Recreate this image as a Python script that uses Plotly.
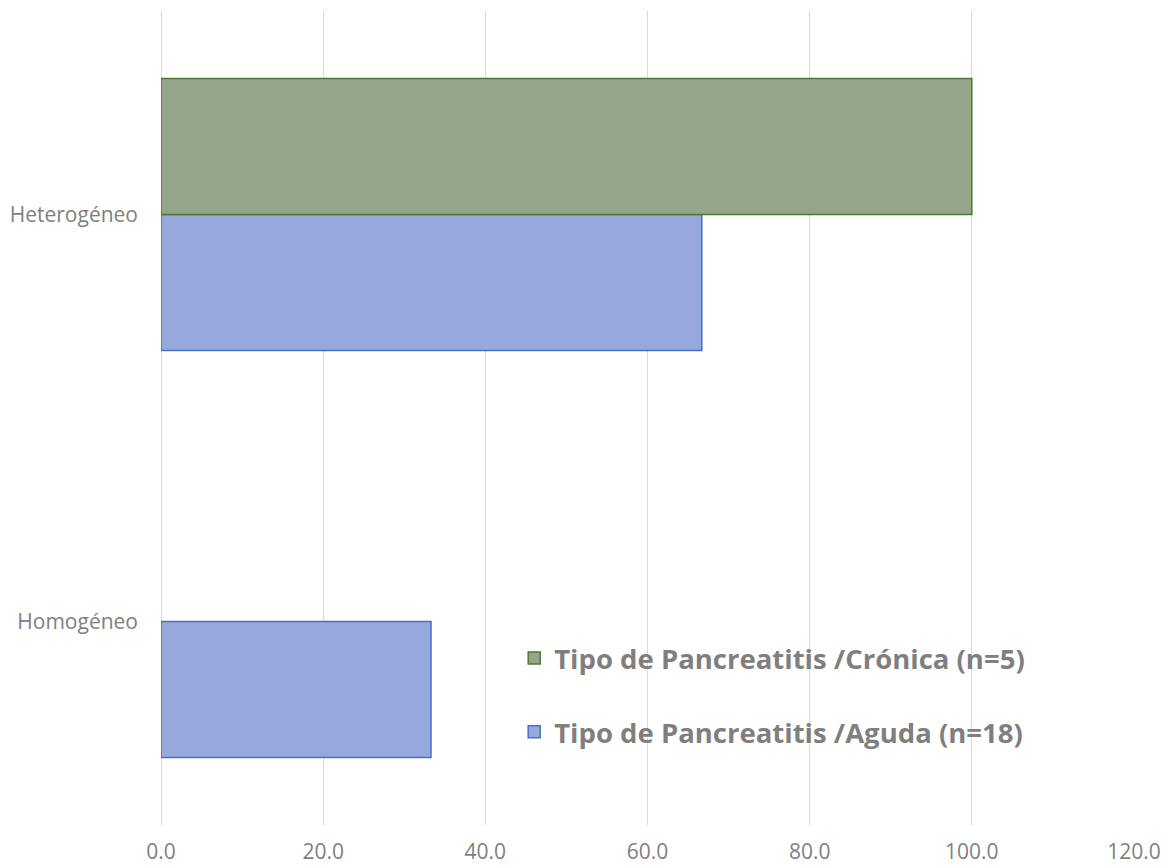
import plotly.graph_objects as go

categories = ["Heterogéneo", "Homogéneo"]
aguda_name = "Tipo de Pancreatitis /Aguda (n=18)"
cronica_name = "Tipo de Pancreatitis /Crónica (n=5)"
aguda_values = [66.7, 33.3]
cronica_values = [100.0, 0.0]
x_ticks = [0, 20, 40, 60, 80, 100, 120]
x_tick_labels = ["0.0", "20.0", "40.0", "60.0", "80.0", "100.0", "120.0"]

fig = go.Figure()
fig.add_trace(go.Bar(
    y=categories, x=aguda_values, orientation="h", name=aguda_name,
    marker=dict(color="#97a8dc", line=dict(color="#4472c4", width=1.5)),
    legendgroup="a", legendrank=2,
))
fig.add_trace(go.Bar(
    y=categories, x=cronica_values, orientation="h", name=cronica_name,
    marker=dict(color="#95a58b",
                line=dict(color="#4e7a2f", width=[0 if v == 0 else 1.5 for v in cronica_values])),
    legendgroup="c", legendrank=1,
))

fig.update_layout(
    width=1167, height=866,
    margin=dict(l=161, r=33, t=11, b=41),
    paper_bgcolor="white", plot_bgcolor="white",
    barmode="group", bargap=0.332, bargroupgap=0,
    font=dict(family="Open Sans", color="#7f7f7f"),
    xaxis=dict(
        range=[0, 120], tickvals=x_ticks, ticktext=x_tick_labels,
        showgrid=True, gridcolor="#d9d9d9", gridwidth=1.3,
        zeroline=True, zerolinecolor="#d9d9d9", zerolinewidth=1.3,
        showline=False, ticks="", automargin=False,
        tickfont=dict(size=21, color="#7f7f7f"), ticklabelstandoff=12,
    ),
    yaxis=dict(
        categoryorder="array", categoryarray=["Homogéneo", "Heterogéneo"],
        showgrid=False, zeroline=False, showline=False, ticks="", automargin=False,
        tickfont=dict(size=21, color="#7f7f7f"), ticklabelstandoff=22,
    ),
    legend=dict(
        x=0.363, y=0.235, xanchor="left", yanchor="top",
        traceorder="grouped", tracegroupgap=35,
        font=dict(size=27.5, color="#7f7f7f", family="Open Sans", weight="bold"),
        bgcolor="rgba(0,0,0,0)", itemclick=False,
    ),
    showlegend=True,
)

fig.write_html("out.html")
